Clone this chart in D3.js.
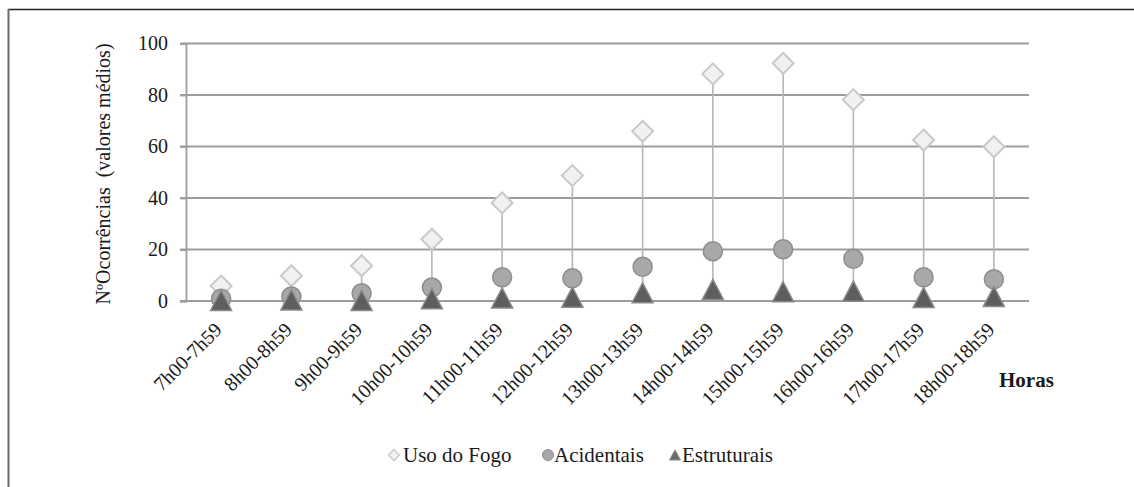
<!DOCTYPE html>
<html>
<head>
<meta charset="utf-8">
<script src="https://cdn.jsdelivr.net/npm/d3@7"></script>
<style>
  body { margin: 0; background: #fff; }
  svg text { font-family: "Liberation Serif", "DejaVu Serif", serif; fill: #1a1a1a; }
</style>
</head>
<body>
<script>
// categories (hour slots)
var horas = ["7h00-7h59", "8h00-8h59", "9h00-9h59", "10h00-10h59", "11h00-11h59", "12h00-12h59",
             "13h00-13h59", "14h00-14h59", "15h00-15h59", "16h00-16h59", "17h00-17h59", "18h00-18h59"];

// series values (mean occurrences)
var usoFogo     = [5.8, 9.8, 13.7, 24.0, 38.1, 48.7, 65.9, 88.2, 92.3, 78.2, 62.5, 59.9];
var acidentais  = [0.9, 1.7, 3.0, 5.2, 9.2, 8.8, 13.3, 19.3, 20.1, 16.4, 9.2, 8.4];
var estruturais = [0.2, 0.4, 0.2, 0.9, 1.2, 1.5, 3.2, 4.5, 3.6, 3.8, 1.4, 1.7];

var yTicks = [0, 20, 40, 60, 80, 100];

var W = 1134, H = 487;
var plot = {left: 186, right: 1029, top: 43.5, bottom: 301};
var serif = "'Liberation Serif', 'DejaVu Serif', serif";

var svg = d3.select("body").append("svg")
    .attr("width", W)
    .attr("height", H)
    .attr("font-family", serif);

// outer frame (right / bottom edges fall outside the picture)
svg.append("line")
    .attr("x1", 8).attr("x2", W).attr("y1", 9.5).attr("y2", 9.5)
    .style("stroke", "#222").style("stroke-width", 1.5);
svg.append("line")
    .attr("x1", 8.5).attr("x2", 8.5).attr("y1", 9).attr("y2", H)
    .style("stroke", "#6a6a6a").style("stroke-width", 2);

// scales
var x = d3.scaleBand().domain(horas).range([plot.left, plot.right]);
var y = d3.scaleLinear().domain([0, 100]).range([plot.bottom, plot.top]);
function cx(d) { return x(d) + x.bandwidth() / 2; }

// gridlines
svg.append("g")
    .selectAll("line")
    .data(yTicks)
  .enter().append("line")
    .attr("x1", plot.left - 6)
    .attr("x2", plot.right)
    .attr("y1", function(d) { return y(d); })
    .attr("y2", function(d) { return y(d); })
    .style("stroke", "#9d9d9d")
    .style("stroke-width", 1.8);

// y axis
var yAxis = svg.append("g")
    .attr("transform", "translate(" + plot.left + ",0)")
    .call(d3.axisLeft(y).tickValues(yTicks).tickSize(6).tickPadding(12));
yAxis.attr("font-family", serif).attr("font-size", 20);
yAxis.select(".domain").style("stroke", "#9d9d9d").style("stroke-width", 1.8);
yAxis.selectAll(".tick line").style("stroke", "#9d9d9d").style("stroke-width", 1.8);
yAxis.selectAll("text").style("fill", "#1a1a1a");

// y axis title
svg.append("text")
    .attr("transform", "translate(110,174) rotate(-90)")
    .attr("text-anchor", "middle")
    .style("font-size", "20px")
    .style("white-space", "pre")
    .text("NºOcorrências  (valores médios)");

// x axis labels
var xAxis = svg.append("g")
    .attr("transform", "translate(0," + plot.bottom + ")")
    .call(d3.axisBottom(x).tickSize(0).tickPadding(0));
xAxis.attr("font-family", serif).attr("font-size", 20);
xAxis.select(".domain").remove();
xAxis.selectAll("text")
    .style("fill", "#1a1a1a")
    .style("text-anchor", "end")
    .attr("dy", "0")
    .attr("transform", "translate(2,30) rotate(-45)");

svg.append("text")
    .attr("x", 999)
    .attr("y", 387)
    .style("font-size", "21px")
    .style("font-weight", "bold")
    .text("Horas");

// high-low drop lines
var idx = d3.range(horas.length);
svg.append("g")
    .selectAll("line")
    .data(idx)
  .enter().append("line")
    .attr("x1", function(i) { return cx(horas[i]); })
    .attr("x2", function(i) { return cx(horas[i]); })
    .attr("y1", function(i) { return y(d3.max([usoFogo[i], acidentais[i], estruturais[i]])); })
    .attr("y2", function(i) { return y(d3.min([usoFogo[i], acidentais[i], estruturais[i]])); })
    .style("stroke", "#b6b6b6")
    .style("stroke-width", 1.6);

var diamondPath = function(r) { return "M0," + (-r) + "L" + r + ",0L0," + r + "L" + (-r) + ",0Z"; };
var trianglePath = function(w, h) { return "M0," + (-h / 2) + "L" + (w / 2) + "," + (h / 2) + "L" + (-w / 2) + "," + (h / 2) + "Z"; };

// Uso do Fogo
svg.append("g")
    .selectAll("path")
    .data(idx)
  .enter().append("path")
    .attr("d", diamondPath(10.5))
    .attr("transform", function(i) { return "translate(" + cx(horas[i]) + "," + y(usoFogo[i]) + ")"; })
    .style("fill", "#f1f1f3")
    .style("stroke", "#c9c9c9")
    .style("stroke-width", 2);

// Acidentais
svg.append("g")
    .selectAll("circle")
    .data(idx)
  .enter().append("circle")
    .attr("cx", function(i) { return cx(horas[i]); })
    .attr("cy", function(i) { return y(acidentais[i]); })
    .attr("r", 9.5)
    .style("fill", "#a8a8ab")
    .style("stroke", "#8d8d90")
    .style("stroke-width", 1.5);

// Estruturais
svg.append("g")
    .selectAll("path")
    .data(idx)
  .enter().append("path")
    .attr("d", trianglePath(21, 20))
    .attr("transform", function(i) { return "translate(" + cx(horas[i]) + "," + y(estruturais[i]) + ")"; })
    .style("fill", "#5e5e5e")
    .style("stroke", "#8a8a8a")
    .style("stroke-width", 1.5);

// legend
var legY = 455;
var legend = svg.append("g");
legend.append("path")
    .attr("d", diamondPath(5.5))
    .attr("transform", "translate(394," + legY + ")")
    .style("fill", "#f1f1f3").style("stroke", "#c9c9c9").style("stroke-width", 1.3);
legend.append("text").attr("x", 403).attr("y", legY + 7)
    .style("font-size", "21px").text("Uso do Fogo");
legend.append("circle")
    .attr("cx", 548).attr("cy", legY).attr("r", 5.5)
    .style("fill", "#a8a8ab").style("stroke", "#8d8d90").style("stroke-width", 1);
legend.append("text").attr("x", 554).attr("y", legY + 7)
    .style("font-size", "21px").text("Acidentais");
legend.append("path")
    .attr("d", trianglePath(11, 10))
    .attr("transform", "translate(675," + legY + ")")
    .style("fill", "#6a6a6a").style("stroke", "#8a8a8a").style("stroke-width", 1);
legend.append("text").attr("x", 682).attr("y", legY + 7)
    .style("font-size", "21px").text("Estruturais");
</script>
</body>
</html>
